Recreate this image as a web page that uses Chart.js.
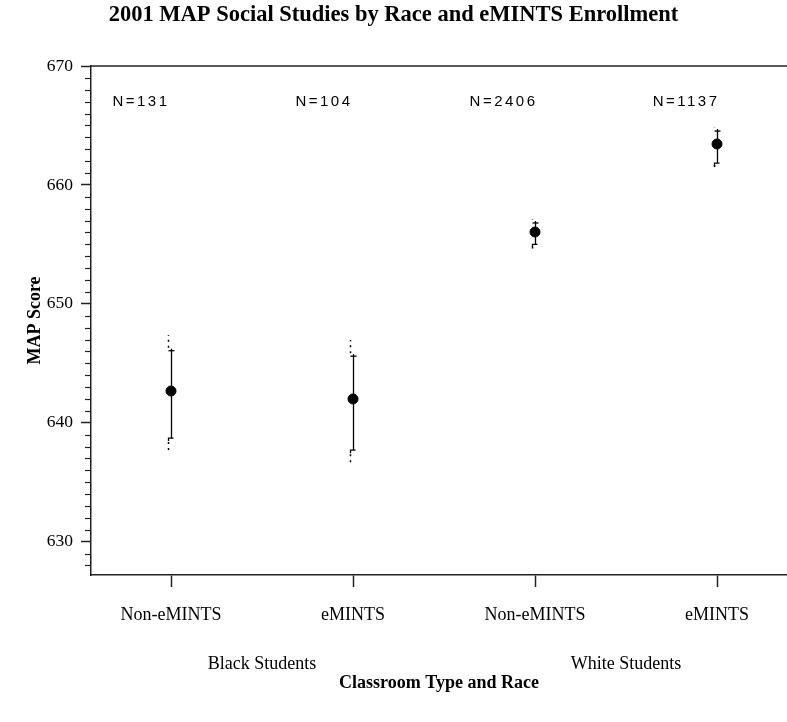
<!DOCTYPE html>
<html>
<head>
<meta charset="utf-8">
<script src="https://cdn.jsdelivr.net/npm/chart.js@4/dist/chart.umd.min.js"></script>
<style>
  html, body { margin: 0; padding: 0; background: #fff; overflow: hidden; }
  canvas { display: block; }
</style>
</head>
<body>
<canvas id="mapChart" width="787" height="722"></canvas>
<script>
// data
const classTypes = ['Non-eMINTS', 'eMINTS', 'Non-eMINTS', 'eMINTS'];
const raceGroups = ['Black Students', 'White Students'];
const nLabels = ['N=131', 'N=104', 'N=2406', 'N=1137'];
const meanScore = [642.67, 642.0, 656.04, 663.44];
const solidLow = [638.71, 637.7, 655.0, 661.84];
const solidHigh = [646.06, 645.6, 656.8, 664.53];
const dotLow = [637.4, 636.4, 654.9, 661.7];
const dotHigh = [647.38, 646.96, 657.1, 664.8];

const serif = 'Liberation Serif';
const axisColor = '#222';

const errorBars = {
  id: 'errorBars',
  afterDatasetsDraw(chart) {
    const ctx = chart.ctx;
    const xs = chart.scales.x, ys = chart.scales.y;
    const area = chart.chartArea;
    ctx.save();

    // top frame line
    ctx.strokeStyle = axisColor;
    ctx.lineWidth = 1.5;
    ctx.beginPath();
    ctx.moveTo(area.left, area.top);
    ctx.lineTo(area.right, area.top);
    ctx.stroke();

    // minor ticks on y axis
    ctx.lineWidth = 1.2;
    for (let v = Math.ceil(ys.min); v < ys.max; v++) {
      if (v % 10 === 0) continue;
      const py = Math.round(ys.getPixelForValue(v)) + 0.5;
      ctx.beginPath();
      ctx.moveTo(area.left - 6, py);
      ctx.lineTo(area.left, py);
      ctx.stroke();
    }

    ctx.strokeStyle = '#000';
    meanScore.forEach((m, i) => {
      const px = Math.round(xs.getPixelForValue(i + 1)) + 0.5;
      const yHi = ys.getPixelForValue(solidHigh[i]);
      const yLo = ys.getPixelForValue(solidLow[i]);
      const dHi = ys.getPixelForValue(dotHigh[i]);
      const dLo = ys.getPixelForValue(dotLow[i]);

      // solid interval
      ctx.setLineDash([]);
      ctx.lineWidth = 1.3;
      ctx.beginPath();
      ctx.moveTo(px, yHi - 2);
      ctx.lineTo(px, yLo);
      ctx.stroke();
      // "+" at the top
      ctx.beginPath();
      ctx.moveTo(px - 3, yHi);
      ctx.lineTo(px + 3, yHi);
      ctx.stroke();
      // small dash at the bottom
      ctx.beginPath();
      ctx.moveTo(px - 3, yLo + 3);
      ctx.lineTo(px - 3, yLo);
      ctx.lineTo(px + 2, yLo);
      ctx.stroke();

      // dotted extension
      ctx.setLineDash([2, 4]);
      ctx.lineWidth = 1.5;
      ctx.beginPath();
      ctx.moveTo(px - 3, yHi - 3);
      ctx.lineTo(px - 3, dHi);
      ctx.moveTo(px - 3, yLo + 4);
      ctx.lineTo(px - 3, dLo);
      ctx.stroke();
    });
    ctx.setLineDash([]);

    // N labels
    ctx.fillStyle = '#000';
    ctx.font = '15px "Liberation Sans"';
    ctx.letterSpacing = '2.5px';
    ctx.textAlign = 'right';
    ctx.textBaseline = 'middle';
    const nRight = [-1.5, -0.5, 2.5, 2.5];
    nLabels.forEach((t, i) => {
      ctx.fillText(t, xs.getPixelForValue(i + 1) + nRight[i], area.top + 36);
    });
    ctx.letterSpacing = '0px';

    // race group labels
    ctx.font = '18px "' + serif + '"';
    ctx.textAlign = 'center';
    raceGroups.forEach((t, g) => {
      ctx.fillText(t, xs.getPixelForValue(g * 2 + 1.5), area.bottom + 89);
    });
    ctx.restore();
  }
};

new Chart(document.getElementById('mapChart'), {
  type: 'scatter',
  data: {
    datasets: [{
      data: meanScore.map((m, i) => ({ x: i + 1, y: m })),
      pointRadius: 5,
      pointHoverRadius: 5,
      backgroundColor: '#000',
      borderColor: '#000'
    }]
  },
  options: {
    responsive: false,
    animation: false,
    devicePixelRatio: 1,
    layout: { padding: 0, autoPadding: false },
    plugins: {
      legend: { display: false },
      tooltip: { enabled: false },
      title: {
        display: true,
        text: '2001 MAP Social Studies by Race and eMINTS Enrollment',
        color: '#000',
        font: { family: serif, size: 22.5, weight: 'bold' },
        padding: { top: 2, bottom: 37 }
      }
    },
    scales: {
      x: {
        type: 'linear',
        min: 0.5604,
        max: 4.3846,
        afterBuildTicks: (s) => { s.ticks = classTypes.map((c, i) => ({ value: i + 1 })); },
        afterFit: (s) => { s.height = 147; },
        ticks: {
          callback: (v) => classTypes[v - 1] || '',
          color: '#000',
          font: { family: serif, size: 18 },
          padding: 17,
          maxRotation: 0
        },
        grid: { drawOnChartArea: false, tickLength: 12, color: axisColor, tickWidth: 1.5 },
        border: { color: axisColor, width: 1.5 },
        title: {
          display: true,
          text: 'Classroom Type and Race',
          color: '#000',
          font: { family: serif, size: 18, weight: 'bold' },
          padding: { top: 0, bottom: 28 }
        }
      },
      y: {
        type: 'linear',
        min: 627.2,
        max: 670,
        afterFit: (s) => { s.width = 91; },
        ticks: {
          stepSize: 10,
          includeBounds: false,
          color: '#000',
          font: { family: serif, size: 17.5 },
          padding: 8
        },
        grid: { drawOnChartArea: false, tickLength: 10, color: axisColor, tickWidth: 1.5 },
        border: { color: axisColor, width: 1.5 },
        title: {
          display: true,
          text: 'MAP Score',
          color: '#000',
          font: { family: serif, size: 18, weight: 'bold' },
          padding: { top: 25, bottom: 0 }
        }
      }
    }
  },
  plugins: [errorBars]
});
</script>
</body>
</html>
